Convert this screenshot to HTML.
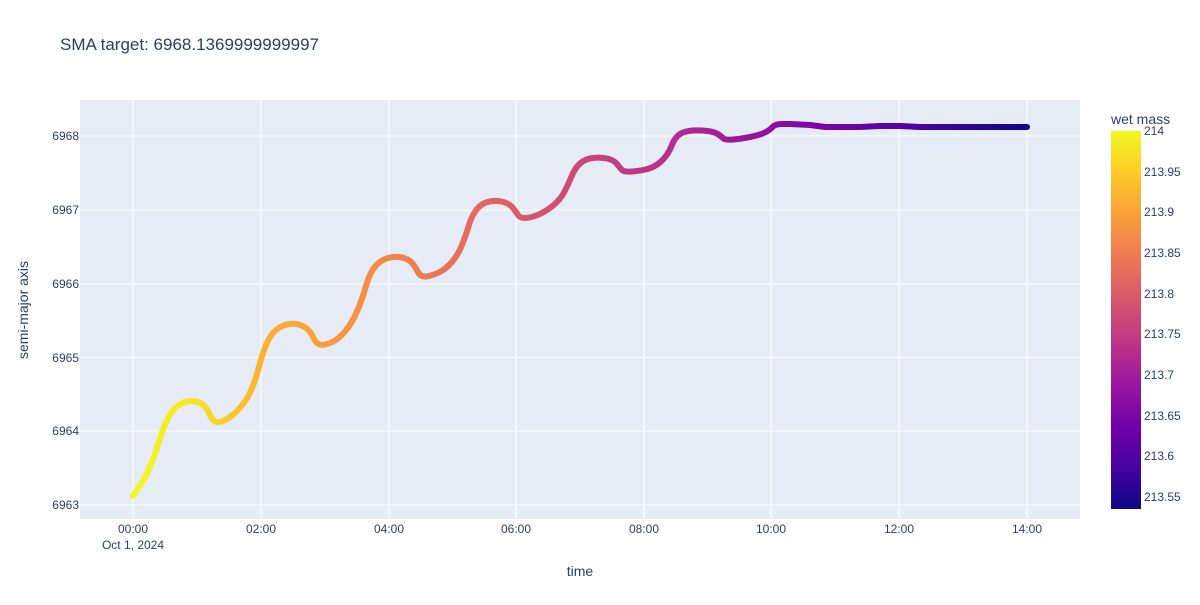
<!DOCTYPE html>
<html><head><meta charset="utf-8"><style>
body{margin:0;background:#fff;font-family:"Liberation Sans",Arial,sans-serif;}
</style></head><body>
<svg width="1200" height="600" xmlns="http://www.w3.org/2000/svg" font-family="Liberation Sans, Arial, sans-serif">
<defs>
<linearGradient id="lg" gradientUnits="userSpaceOnUse" x1="133" y1="0" x2="1027" y2="0">
<stop offset="0" stop-color="#f0f921"/>
<stop offset="0.07" stop-color="#f7e225"/>
<stop offset="0.14" stop-color="#fdb42f"/>
<stop offset="0.28" stop-color="#f48849"/>
<stop offset="0.40" stop-color="#e16462"/>
<stop offset="0.50" stop-color="#cc4778"/>
<stop offset="0.60" stop-color="#b52f8c"/>
<stop offset="0.68" stop-color="#9c179e"/>
<stop offset="0.76" stop-color="#7e03a8"/>
<stop offset="0.88" stop-color="#4c02a1"/>
<stop offset="1" stop-color="#0d0887"/>
</linearGradient>
<linearGradient id="cb" x1="0" y1="1" x2="0" y2="0">
<stop offset="0" stop-color="#0d0887"/>
<stop offset="0.111" stop-color="#46039f"/>
<stop offset="0.222" stop-color="#7201a8"/>
<stop offset="0.333" stop-color="#9c179e"/>
<stop offset="0.444" stop-color="#bd3786"/>
<stop offset="0.556" stop-color="#d8576b"/>
<stop offset="0.667" stop-color="#ed7953"/>
<stop offset="0.778" stop-color="#fb9f3a"/>
<stop offset="0.889" stop-color="#fdca26"/>
<stop offset="1" stop-color="#f0f921"/>
</linearGradient>
</defs>
<text x="60" y="50" font-size="17" fill="#2a3f5f">SMA target: 6968.1369999999997</text>
<rect x="80" y="100" width="1000" height="419" fill="#e5ecf6"/>
<g stroke="#fff" stroke-width="1">
<line x1="133" y1="100" x2="133" y2="519"/><line x1="261" y1="100" x2="261" y2="519"/>
<line x1="389" y1="100" x2="389" y2="519"/><line x1="516" y1="100" x2="516" y2="519"/>
<line x1="644" y1="100" x2="644" y2="519"/><line x1="771" y1="100" x2="771" y2="519"/>
<line x1="899" y1="100" x2="899" y2="519"/><line x1="1027" y1="100" x2="1027" y2="519"/>
<line x1="80" y1="505" x2="1080" y2="505"/><line x1="80" y1="431" x2="1080" y2="431"/>
<line x1="80" y1="357.5" x2="1080" y2="357.5"/><line x1="80" y1="284" x2="1080" y2="284"/>
<line x1="80" y1="210" x2="1080" y2="210"/><line x1="80" y1="136" x2="1080" y2="136"/>
</g>
<path fill="none" stroke="url(#lg)" stroke-width="6" stroke-linejoin="round" stroke-linecap="round"
d="M133,496 L145,478 Q145,478 150,466.5 Q155,455 159,441.5 Q163,428 167.5,419 Q172,410 178.5,405.5 Q185,401 191.5,401 Q198,401 202.5,404.5 Q207,408 209.5,414 Q212,420 215,421.5 Q218,423 224,420.5 Q230,418 237.5,410.5 Q245,403 250,392.5 Q255,382 258.5,368.5 Q262,355 266,345 Q270,335 276,330 Q282,325 289.5,324 Q297,323 303.5,326.5 Q310,330 312.5,336 Q315,342 318.5,344 Q322,346 330,343 Q338,340 345,331.5 Q352,323 357,311.5 Q362,300 366,286 Q370,272 376,265.5 Q382,259 390,257.5 Q398,256 404,258 Q410,260 413,264 Q416,268 418,272 Q420,276 424,276.5 Q428,277 436.5,273.5 Q445,270 451.5,262.5 Q458,255 462,245 Q466,235 469,225 Q472,215 477,209 Q482,203 489.5,201.5 Q497,200 503.5,202 Q510,204 513,208 Q516,212 518,215 Q520,218 525,218 Q530,218 537.5,215 Q545,212 552.5,206 Q560,200 564,192.5 Q568,185 571.5,176.5 Q575,168 580,163.5 Q585,159 592.5,158 Q600,157 607,158.5 Q614,160 617,164 Q620,168 622,170 Q624,172 632,171.5 Q640,171 647.5,169 Q655,167 661.5,161 Q668,155 671.5,146 Q675,137 680,134 Q685,131 692.5,130.5 Q700,130 707.5,131 Q715,132 718.5,134.5 Q722,137 723.5,138.5 Q725,140 732.5,139.5 Q740,139 750,137 Q760,135 765,132.5 Q770,130 772.5,127 Q775,124 782.5,124 L790,124 L810,125 L825,127 L840,127 L860,127 L880,126 L900,126 L920,127 L1027,127"/>
<g font-size="12" fill="#2a3f5f" text-anchor="middle">
<text x="133" y="533">00:00</text><text x="133" y="549">Oct 1, 2024</text>
<text x="261" y="533">02:00</text><text x="389" y="533">04:00</text><text x="516" y="533">06:00</text>
<text x="644" y="533">08:00</text><text x="771" y="533">10:00</text><text x="899" y="533">12:00</text><text x="1027" y="533">14:00</text>
</g>
<g font-size="12" fill="#2a3f5f" text-anchor="end">
<text x="79" y="509">6963</text><text x="79" y="435">6964</text><text x="79" y="362">6965</text>
<text x="79" y="288">6966</text><text x="79" y="214">6967</text><text x="79" y="140">6968</text>
</g>
<text x="580" y="576" font-size="14" fill="#2a3f5f" text-anchor="middle">time</text>
<text transform="translate(28,310) rotate(-90)" font-size="14" fill="#2a3f5f" text-anchor="middle">semi-major axis</text>
<text x="1111" y="124" font-size="14" fill="#2a3f5f">wet mass</text>
<rect x="1111" y="131" width="30" height="378" fill="url(#cb)"/>
<g font-size="12" fill="#2a3f5f">
<text x="1144" y="135">214</text><text x="1144" y="176">213.95</text><text x="1144" y="216">213.9</text>
<text x="1144" y="257">213.85</text><text x="1144" y="298">213.8</text><text x="1144" y="338">213.75</text>
<text x="1144" y="379">213.7</text><text x="1144" y="420">213.65</text><text x="1144" y="460">213.6</text>
<text x="1144" y="501">213.55</text>
</g>
</svg>
</body></html>
